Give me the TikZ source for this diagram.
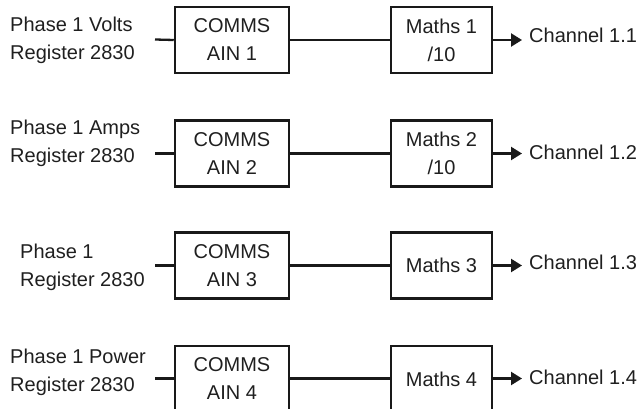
\documentclass[tikz,border=0pt]{standalone}
\usepackage{fontspec}
\setmainfont{Liberation Sans}
\usetikzlibrary{arrows.meta}
\begin{document}
\begin{tikzpicture}[x=1pt,y=-1pt,
  every node/.style={font=\fontsize{20}{28}\selectfont, text=black!88},
  blk/.style={draw=black!90, line width=2.5pt, minimum height=66pt, align=center, inner sep=0pt},
  comms/.style={blk, minimum width=114pt},
  maths/.style={blk, minimum width=101pt},
  lbl/.style={align=left, anchor=west, inner sep=0pt},
  chan/.style={anchor=west, inner sep=0pt},
  wire/.style={draw=black!90, line width=2.3pt},
  arr/.style={wire, -{Triangle[length=11pt,width=13pt]}}]
\useasboundingbox (0,0) rectangle (642,409);
\clip (0,0) rectangle (642,409);
% Row 1
\node[lbl] (l1) at (10,40) {Phase 1 Volts\\Register 2830};
\coordinate (s1) at (155,39.5);
\node[comms] (c1) at (232,40) {COMMS\\AIN 1};
\node[maths] (m1) at (441.5,40) {Maths 1\\/10};
\coordinate (t1) at (522,40);
\node[chan] (ch1) at (529,35) {Channel 1.1};
\draw[wire] (s1) -- (c1.west);
\draw[wire] (c1.east) -- (m1.west);
\draw[arr] (m1.east) -- (t1);
% Row 2
\node[lbl] (l2) at (10,143.5) {Phase 1 Amps\\Register 2830};
\coordinate (s2) at (155,153.5);
\node[comms] (c2) at (232,153.5) {COMMS\\AIN 2};
\node[maths] (m2) at (441.5,153.5) {Maths 2\\/10};
\coordinate (t2) at (522,153.5);
\node[chan] (ch2) at (529,152) {Channel 1.2};
\draw[wire] (s2) -- (c2.west);
\draw[wire] (c2.east) -- (m2.west);
\draw[arr] (m2.east) -- (t2);
% Row 3
\node[lbl] (l3) at (20,267) {Phase 1\\Register 2830};
\coordinate (s3) at (155,265.5);
\node[comms] (c3) at (232,265.5) {COMMS\\AIN 3};
\node[maths] (m3) at (441.5,265.5) {Maths 3};
\coordinate (t3) at (522,265.5);
\node[chan] (ch3) at (529,262) {Channel 1.3};
\draw[wire] (s3) -- (c3.west);
\draw[wire] (c3.east) -- (m3.west);
\draw[arr] (m3.east) -- (t3);
% Row 4
\node[lbl] (l4) at (10,372) {Phase 1 Power\\Register 2830};
\coordinate (s4) at (155,378.5);
\node[comms] (c4) at (232,379) {COMMS\\AIN 4};
\node[maths] (m4) at (441.5,379) {Maths 4};
\coordinate (t4) at (522,378.5);
\node[chan] (ch4) at (529,377) {Channel 1.4};
\draw[wire] (s4) -- (s4 -| c4.west);
\draw[wire] (c4.east |- s4) -- (m4.west |- s4);
\draw[arr] (m4.east |- s4) -- (t4);
\end{tikzpicture}
\end{document}
